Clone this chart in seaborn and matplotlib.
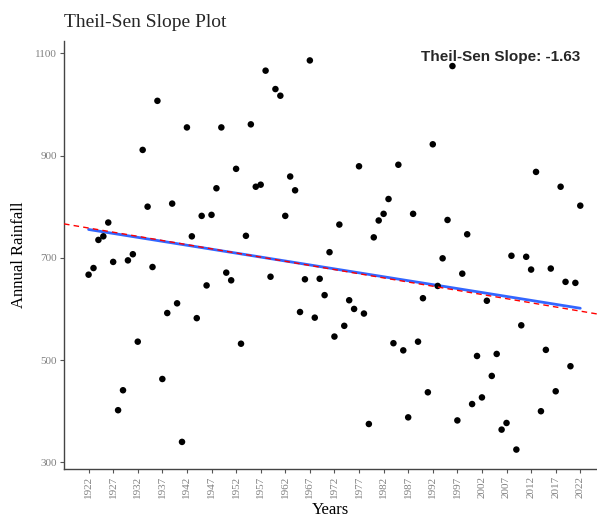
import numpy as np
import pandas as pd
import seaborn as sns
import matplotlib.pyplot as plt

sns.set_theme(style='white')
plt.rcParams['font.family'] = ['Liberation Serif', 'DejaVu Serif']

years = list(range(1922, 2023))
rainfall = [
    667, 680, 735, 742, 769, 692, 402, 441, 695, 707,
    536, 911, 800, 682, 1007, 463, 592, 806, 611, 340,
    955, 742, 582, 782, 646, 784, 836, 955, 671, 656,
    874, 532, 743, 961, 839, 843, 1066, 663, 1030, 1017,
    782, 859, 832, 594, 658, 1086, 583, 659, 627, 711,
    546, 765, 567, 617, 600, 879, 591, 375, 740, 773,
    786, 815, 533, 882, 519, 388, 786, 536, 621, 437,
    922, 645, 699, 774, 1075, 382, 669, 746, 414, 508,
    427, 616, 469, 512, 364, 377, 704, 325, 568, 702,
    677, 868, 400, 520, 679, 439, 839, 653, 488, 651,
    802,
]
year_ticks = list(range(1922, 2023, 5))
rain_ticks = [300, 500, 700, 900, 1100]
slope_label = 'Theil-Sen Slope: -1.63'

df = pd.DataFrame({'Years': years, 'Annual Rainfall': rainfall})

# theil-sen: median of pairwise slopes, line through the medians
x = df['Years'].to_numpy(float)
y = df['Annual Rainfall'].to_numpy(float)
i, j = np.triu_indices(len(x), k=1)
ts_slope = np.median((y[j] - y[i]) / (x[j] - x[i]))
ts_int = np.median(y) - ts_slope * np.median(x)

fig = plt.figure(figsize=(5.97, 5.22), dpi=100)
ax = fig.add_axes([64 / 597, 53 / 522, 533 / 597, 428 / 522])

sns.scatterplot(data=df, x='Years', y='Annual Rainfall', color='black',
                s=22, edgecolor='none', ax=ax, zorder=3)
sns.regplot(data=df, x='Years', y='Annual Rainfall', scatter=False, ci=None,
            color='#3366FF', line_kws={'lw': 2.0}, ax=ax)
ax.axline((0, ts_int), slope=ts_slope, color='red', lw=1.0,
          ls=(0, (4, 3)), zorder=4)

ax.set_xlim(1917, 2025.4)
ax.set_ylim(287, 1124)
ax.set_xticks(year_ticks)
ax.set_yticks(rain_ticks)
ax.tick_params(axis='x', labelrotation=90)
ax.tick_params(length=3, width=0.8, color='#555555', labelsize=8,
               labelcolor='#808080', pad=2, bottom=True, left=True)

for side in ['top', 'right']:
    ax.spines[side].set_visible(False)
for side in ['left', 'bottom']:
    ax.spines[side].set_color('#444444')
    ax.spines[side].set_linewidth(1.0)

ax.set_xlabel('Years', fontsize=12, color='black', labelpad=3)
ax.set_ylabel('Annual Rainfall', fontsize=12, color='black', labelpad=6)
ax.set_title('Theil-Sen Slope Plot', loc='left', fontsize=14, pad=10)

ax.text(2022, 1093, slope_label, ha='right', va='center', fontsize=11,
        fontweight='bold', family=['Liberation Sans', 'DejaVu Sans'])

plt.savefig('out.png', dpi=100)
